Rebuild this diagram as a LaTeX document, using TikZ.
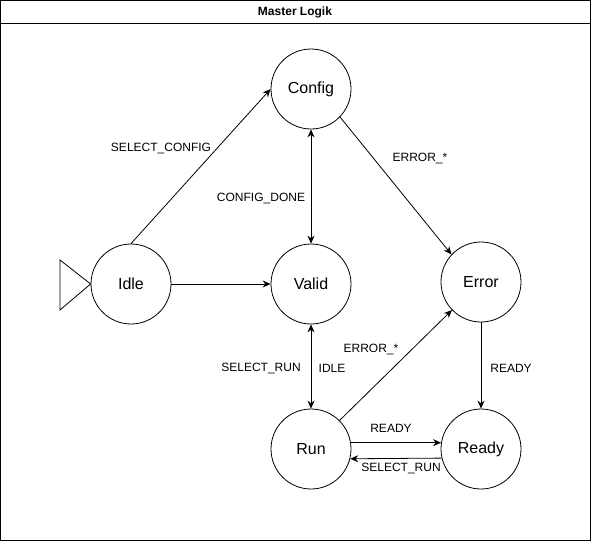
\documentclass[tikz,border=0pt]{standalone}
\usepackage{fontspec}
\setmainfont{Liberation Sans}
\usetikzlibrary{arrows.meta}
\begin{document}
\begin{tikzpicture}[x=1pt,y=-1pt,
  state/.style={circle,draw,line width=0.8pt,minimum size=80pt,inner sep=0pt,font=\fontsize{16}{19}\selectfont},
  lbl/.style={font=\fontsize{12}{14}\selectfont,inner sep=1pt},
  edge/.style={draw,line width=0.8pt,-{Stealth[length=8pt,width=7pt]}},
  biedge/.style={draw,line width=0.8pt,{Stealth[length=8pt,width=7pt]}-{Stealth[length=8pt,width=7pt]}}]
\useasboundingbox (0,0) rectangle (591,541);
\draw[line width=1pt] (0.5,0.5) rectangle (590.5,540.5);
\draw[line width=1pt] (0.5,23) -- (590.5,23);
\node[font=\bfseries\fontsize{12}{14}\selectfont] (title) at (295,12) {Master Logik};

\node[state] (config) at (311,89) {Config};
\node[state] (valid) at (311,284) {Valid};
\node[state] (idle) at (131,284) {Idle};
\node[state] (error) at (481,282) {Error};
\node[state] (run) at (311,449) {Run};
\node[state] (ready) at (481,449) {Ready};

\draw[line width=0.8pt] (60,260) -- (60,310) -- (idle.west) -- cycle;

\path[edge] (idle.north) -- (config.west);
\path[edge] (idle.east) -- (valid.west);
\path[biedge] (config.south) -- (valid.north);
\path[edge] (config.-44) -- (error.137);
\path[biedge] (valid.south) -- (run.north);
\path[edge] (run.45) -- (error.224);
\path[edge] (error.south) -- (ready.north);
\path[edge] (run.9) -- (ready.171);
\path[edge] (ready.193) -- (run.-14);

\node[lbl] (l1) at (161,148) {SELECT\_CONFIG};
\node[lbl] (l2) at (261,198) {CONFIG\_DONE};
\node[lbl] (l3) at (420,158) {ERROR\_*};
\node[lbl] (l4) at (261,368) {SELECT\_RUN};
\node[lbl] (l5) at (332,368) {IDLE};
\node[lbl] (l6) at (371,349) {ERROR\_*};
\node[lbl] (l7) at (511,368) {READY};
\node[lbl] (l8) at (391,428) {READY};
\node[lbl] (l9) at (401,468) {SELECT\_RUN};
\end{tikzpicture}
\end{document}
